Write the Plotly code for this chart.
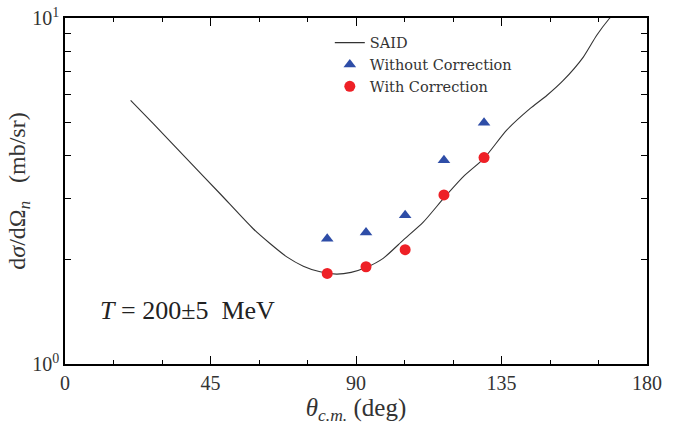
import plotly.graph_objects as go

# SAID curve
said_theta = [20.3, 27.3, 37.6, 47.9, 58.2, 63.4, 68.6, 73.7, 78.9, 84.0, 88.5, 93.1,
              98.4, 104.6, 110.8, 117.2, 123.2, 129.6, 136.6, 143.8, 149.0, 154.1, 160.3,
              164.4, 168.3, 171.0]
said_xs = [5.78, 4.95, 3.92, 3.11, 2.46, 2.23, 2.04, 1.918, 1.847, 1.819, 1.84, 1.90,
           2.02, 2.28, 2.57, 3.02, 3.48, 3.93, 4.74, 5.47, 5.97, 6.60, 7.71,
           8.90, 9.95, 10.6]

# Data points
theta = [81.1, 93.1, 105.2, 117.2, 129.6]
without_corr = [2.30, 2.40, 2.69, 3.88, 4.98]
with_corr = [1.827, 1.91, 2.14, 3.08, 3.95]

x_ticks = [0, 45, 90, 135, 180]
y_tickvals = [1, 2, 3, 4, 5, 6, 7, 8, 9, 10]
y_ticktext = ["10<sup>0</sup>", "", "", "", "", "", "", "", "", "10<sup>1</sup>"]

font_family = "'Liberation Serif', 'DejaVu Serif', serif"
legend_family = "'DejaVu Serif', serif"
NB = "\u00a0"

fig = go.Figure()
fig.add_trace(go.Scatter(x=said_theta, y=said_xs, mode="lines", name="SAID",
                         line=dict(color="#333333", width=1.1, shape="spline", smoothing=0.6)))
fig.add_trace(go.Scatter(x=theta, y=without_corr, mode="markers", name="Without Correction",
                         marker=dict(symbol="triangle-up", size=11, color="#2E4DA7")))
fig.add_trace(go.Scatter(x=theta, y=with_corr, mode="markers", name="With Correction",
                         marker=dict(symbol="circle", size=11, color="#EE2026")))

fig.update_layout(
    width=677, height=425,
    margin=dict(l=65, r=30, t=18, b=61),
    paper_bgcolor="white", plot_bgcolor="white",
    font=dict(family=font_family, color="#222222"),
    showlegend=True,
    legend=dict(x=0.455, y=0.975, xanchor="left", yanchor="top",
                bgcolor="rgba(0,0,0,0)", font=dict(size=14.5, family=legend_family, color="#333333"),
                itemwidth=30, tracegroupgap=0),
    annotations=[dict(text="<i>T</i>" + NB + "=" + NB + "200±5" + NB + NB + "MeV",
                      x=0.211, y=0.156, xref="paper", yref="paper",
                      xanchor="center", yanchor="middle",
                      showarrow=False, font=dict(size=26, family=font_family, color="#222222"))],
)

fig.update_xaxes(range=[0, 180], tickvals=x_ticks, ticks="inside", ticklen=8, tickwidth=1.4,
                 tickcolor="black", showline=True, linecolor="black", linewidth=1.5,
                 mirror="ticks", showgrid=False, zeroline=False, automargin=False,
                 minor=dict(dtick=15, tick0=0, ticks="inside", ticklen=4, tickcolor="black", tickwidth=1.4),
                 tickfont=dict(size=20, family=font_family, color="#333333"),
                 title=dict(text="<i>θ</i><sub><i>c.m.</i></sub> (deg)", standoff=4,
                            font=dict(size=25, family=font_family, color="#333333")))
fig.update_yaxes(type="log", range=[0, 1], tickvals=y_tickvals, ticktext=y_ticktext,
                 ticks="inside", ticklen=6, tickwidth=1.4, tickcolor="black",
                 showline=True, linecolor="black", linewidth=1.5, mirror="ticks",
                 showgrid=False, zeroline=False, automargin=False,
                 tickfont=dict(size=20, family=font_family, color="#333333"),
                 title=dict(text="d<i>σ</i>/dΩ<sub><i>n</i></sub>" + NB + NB + NB + "(mb/sr)", standoff=0,
                            font=dict(size=24, family=font_family, color="#333333")))

fig.write_html("out.html")
